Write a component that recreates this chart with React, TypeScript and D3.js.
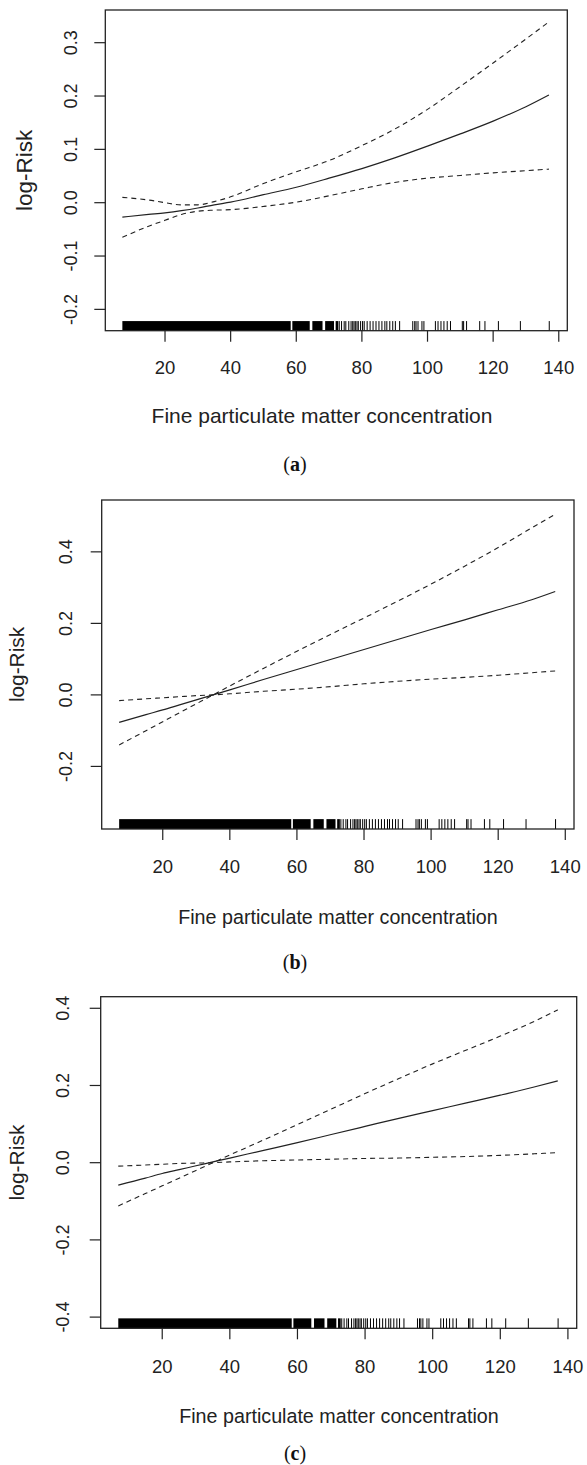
import React from 'react';
import * as d3 from 'd3';

const pm = [7, 15, 20, 25, 30, 35, 40, 50, 60, 70, 80, 90, 100, 110, 120, 130, 137];

// panel (a)
const fitA = [-0.027, -0.022, -0.019, -0.015, -0.01, -0.004, 0.001, 0.015, 0.029, 0.046, 0.064, 0.084, 0.106, 0.129, 0.153, 0.18, 0.202];
const upperA = [0.01, 0.005, 0.0, -0.004, -0.004, 0.002, 0.011, 0.036, 0.058, 0.079, 0.107, 0.138, 0.175, 0.218, 0.262, 0.307, 0.339];
const lowerA = [-0.065, -0.044, -0.033, -0.022, -0.016, -0.014, -0.013, -0.007, 0.001, 0.013, 0.026, 0.038, 0.046, 0.051, 0.056, 0.06, 0.063];

// panel (b)
const fitB = [-0.077, -0.055, -0.042, -0.028, -0.014, 0.0, 0.014, 0.043, 0.071, 0.099, 0.127, 0.155, 0.183, 0.21, 0.238, 0.266, 0.289];
const upperB = [-0.14, -0.1, -0.075, -0.05, -0.025, 0.0, 0.025, 0.074, 0.122, 0.169, 0.215, 0.262, 0.31, 0.36, 0.412, 0.467, 0.505];
const lowerB = [-0.016, -0.011, -0.008, -0.005, -0.002, 0.0, 0.003, 0.01, 0.016, 0.023, 0.031, 0.038, 0.044, 0.049, 0.055, 0.062, 0.067];

// panel (c)
const fitC = [-0.058, -0.04, -0.028, -0.018, -0.008, 0.002, 0.012, 0.032, 0.052, 0.073, 0.094, 0.115, 0.135, 0.155, 0.175, 0.196, 0.212];
const upperC = [-0.112, -0.08, -0.06, -0.04, -0.02, 0.0, 0.02, 0.059, 0.099, 0.139, 0.179, 0.218, 0.256, 0.292, 0.328, 0.366, 0.396];
const lowerC = [-0.009, -0.006, -0.004, -0.002, -0.001, 0.0, 0.002, 0.005, 0.007, 0.009, 0.011, 0.012, 0.014, 0.016, 0.019, 0.023, 0.026];

// rug: stretches where observations merge into solid black, then single ticks
const rugBands: [number, number][] = [[7, 58.3], [58.8, 64.1], [64.9, 68.0], [68.8, 71.5], [72.0, 72.8]];
const rugTicks = [73.1, 73.8, 74.6, 75.1, 76.0, 76.7, 77.2, 77.6, 78.0, 78.5, 78.9, 79.6, 80.2, 80.7, 81.6, 82.5, 83.4, 84.3, 85.2, 86.1, 87.0, 87.6, 88.5, 89.4, 90.2, 91.5, 95.5, 96.1, 96.5, 97.1, 98.3, 98.9, 102.4, 103.2, 104.1, 105.0, 106.0, 107.0, 110.6, 111.0, 111.9, 115.9, 117.5, 121.6, 128.3, 137.1];

const xTicks = [20, 40, 60, 80, 100, 120, 140];
const yTicksA = [-0.2, -0.1, 0.0, 0.1, 0.2, 0.3];
const yTicksB = [-0.2, 0.0, 0.2, 0.4];
const yTicksC = [-0.4, -0.2, 0.0, 0.2, 0.4];
const captions = ['a', 'b', 'c'];

const panels = [
  { fit: fitA, upper: upperA, lower: lowerA, yTicks: yTicksA, yDom: [-0.24, 0.3613], box: { l: 105.3, r: 567.3, t: 10, b: 330.7 }, yLabX: 70.8, yTitleX: 24.5, yTitleSize: 22.5, xLabY: 367, xTitleX: 322, xTitleY: 415, xTitleSize: 21, capY: 464 },
  { fit: fitB, upper: upperB, lower: lowerB, yTicks: yTicksB, yDom: [-0.375, 0.545], box: { l: 101.7, r: 574, t: 500, b: 829 }, yLabX: 65.8, yTitleX: 16.7, yTitleSize: 20.8, xLabY: 866.7, xTitleX: 338, xTitleY: 916.7, xTitleSize: 19.7, capY: 962 },
  { fit: fitC, upper: upperC, lower: lowerC, yTicks: yTicksC, yDom: [-0.429, 0.43], box: { l: 100.7, r: 576.7, t: 996.7, b: 1328.3 }, yLabX: 63.3, yTitleX: 16.2, yTitleSize: 21, xLabY: 1366.7, xTitleX: 339, xTitleY: 1416, xTitleSize: 19.7, capY: 1453 },
];

const ink = '#222';
const font = 'Liberation Sans, Arial, sans-serif';

const Panel = ({ p, cap }: { p: any; cap: string }) => {
  const { box } = p;
  const x = d3.scaleLinear().domain([1.8, 142.6]).range([box.l, box.r]);
  const y = d3.scaleLinear().domain(p.yDom).range([box.b, box.t]);
  const rugH = (box.b - box.t) * 0.03;

  const line = (vals: number[]) =>
    d3.line<number>().x((_, i) => x(pm[i])).y((d) => y(d)).curve(d3.curveMonotoneX)(vals) || '';

  return (
    <g>
      {/* rug */}
      {rugBands.map(([a, b], i) => (
        <rect key={'b' + i} x={x(a)} y={box.b - rugH} width={x(b) - x(a)} height={rugH} fill="#000" />
      ))}
      {rugTicks.map((v, i) => (
        <line key={'r' + i} x1={x(v)} x2={x(v)} y1={box.b - rugH} y2={box.b} stroke="#000" strokeWidth={1} />
      ))}

      <path d={line(p.upper)} fill="none" stroke={ink} strokeWidth={1.1} strokeDasharray="5,4" />
      <path d={line(p.lower)} fill="none" stroke={ink} strokeWidth={1.1} strokeDasharray="5,4" />
      <path d={line(p.fit)} fill="none" stroke={ink} strokeWidth={1.2} />

      <rect x={box.l} y={box.t} width={box.r - box.l} height={box.b - box.t} fill="none" stroke={ink} strokeWidth={1.3} />

      {/* x axis */}
      {xTicks.map((t) => (
        <g key={'x' + t}>
          <line x1={x(t)} x2={x(t)} y1={box.b} y2={box.b + 11} stroke={ink} strokeWidth={1.2} />
          <text x={x(t)} y={p.xLabY} textAnchor="middle" dominantBaseline="central" fontSize={18.5} fontFamily={font} fill={ink}>
            {t}
          </text>
        </g>
      ))}
      <text x={p.xTitleX} y={p.xTitleY} textAnchor="middle" dominantBaseline="central" fontSize={p.xTitleSize} fontFamily={font} fill={ink}>
        Fine particulate matter concentration
      </text>

      {/* y axis */}
      {p.yTicks.map((t: number) => (
        <g key={'y' + t}>
          <line x1={box.l - 11} x2={box.l} y1={y(t)} y2={y(t)} stroke={ink} strokeWidth={1.2} />
          <text
            transform={`translate(${p.yLabX},${y(t)}) rotate(-90)`}
            textAnchor="middle"
            dominantBaseline="central"
            fontSize={18}
            fontFamily={font}
            fill={ink}
          >
            {t.toFixed(1)}
          </text>
        </g>
      ))}
      <text
        transform={`translate(${p.yTitleX},${(box.t + box.b) / 2}) rotate(-90)`}
        textAnchor="middle"
        dominantBaseline="central"
        fontSize={p.yTitleSize}
        fontFamily={font}
        fill={ink}
      >
        log-Risk
      </text>

      <text x={295} y={p.capY} textAnchor="middle" dominantBaseline="central" fontSize={20} fontFamily="Liberation Serif, serif" fill="#111">
        (<tspan fontWeight="bold">{cap}</tspan>)
      </text>
    </g>
  );
};

export default function App() {
  return (
    <div style={{ position: 'absolute', left: 0, top: 0 }}>
      <svg width={587} height={1465} style={{ display: 'block', background: '#fff' }}>
        {panels.map((p, i) => (
          <Panel key={i} p={p} cap={captions[i]} />
        ))}
      </svg>
    </div>
  );
}
